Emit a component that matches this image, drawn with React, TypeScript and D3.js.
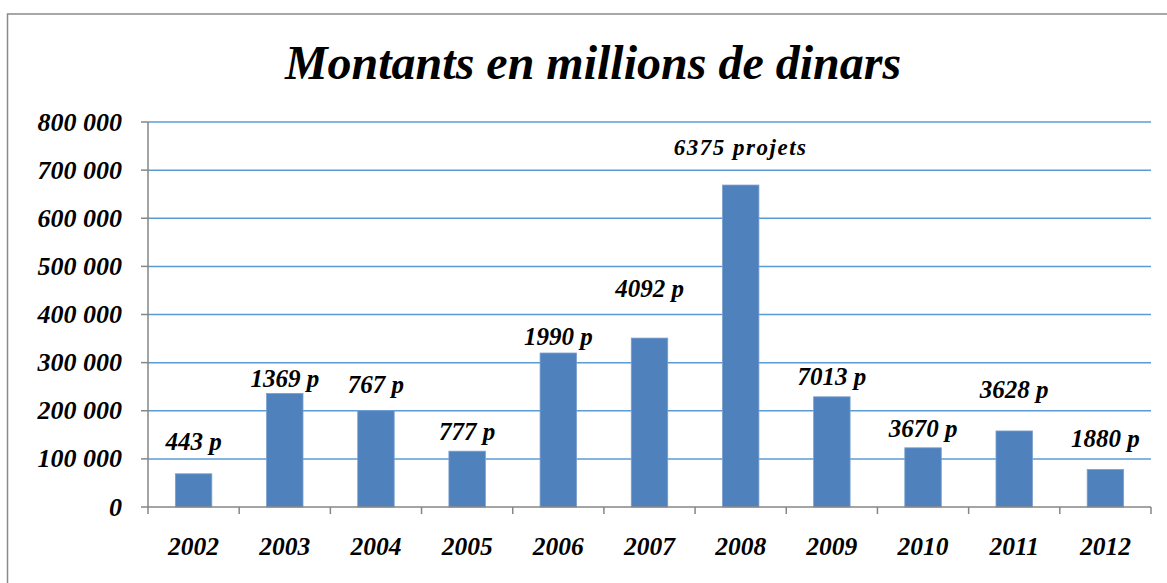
import React, { useEffect } from "react";
import * as d3 from "d3";

const years = ["2002", "2003", "2004", "2005", "2006", "2007", "2008", "2009", "2010", "2011", "2012"];
const amounts = [69000, 236000, 200000, 116000, 320000, 351000, 669000, 229000, 123000, 158000, 78000];
const projectLabels = ["443 p", "1369 p", "767 p", "777 p", "1990 p", "4092 p", "6375 projets", "7013 p", "3670 p", "3628 p", "1880 p"];
const labelAnchors = [118000, 249000, 237000, 139000, 337000, 436000, 731000, 253000, 145000, 226000, 125000];
const yTicks = [0, 100000, 200000, 300000, 400000, 500000, 600000, 700000, 800000];
const title = "Montants en millions de dinars";

const W = 1167;
const H = 583;
const left = 148;
const right = 1151;
const top = 122;
const bottom = 507;
const font = "'Liberation Serif', 'Times New Roman', serif";

const fmt = (v: number) => (v === 0 ? "0" : d3.format(",")(v).replace(/,/g, " "));

export default function App() {
  useEffect(() => {
    document.body.style.margin = "0";
  }, []);
  const x = d3.scaleBand<string>().domain(years).range([left, right]).paddingInner(0.6).paddingOuter(0.3);
  const xb = d3.scaleBand<string>().domain(years).range([left, right]);
  const y = d3.scaleLinear().domain([0, 800000]).range([bottom, top]);
  const axisColor = "#868686";
  return (
    <svg width={W} height={H} style={{ display: "block", background: "#fff" }}>
      <rect x={7.5} y={14} width={W + 20} height={H + 20} fill="none" stroke="#8a8a8a" strokeWidth={1.5} />
      <text x={593} y={79} textAnchor="middle" fontFamily={font} fontWeight="bold" fontStyle="italic" fontSize={48}>
        {title}
      </text>
      {yTicks.filter((t) => t > 0).map((t) => (
        <line key={"g" + t} x1={left} x2={right} y1={y(t)} y2={y(t)} stroke="#5B9BD5" strokeWidth={1.5} />
      ))}
      {years.map((yr, i) => (
        <rect key={yr} x={x(yr)} y={y(amounts[i])} width={x.bandwidth()} height={bottom - y(amounts[i])} fill="#4F81BD" stroke="#7BA0CF" strokeWidth={0.8} />
      ))}
      <line x1={left} x2={left} y1={top} y2={bottom} stroke={axisColor} strokeWidth={1.5} />
      <line x1={left} x2={right} y1={bottom} y2={bottom} stroke={axisColor} strokeWidth={1.5} />
      {yTicks.map((t) => (
        <g key={"t" + t}>
          <line x1={left - 7} x2={left} y1={y(t)} y2={y(t)} stroke={axisColor} strokeWidth={1.5} />
          <text x={122} y={y(t)} dy="0.33em" textAnchor="end" fontFamily={font} fontWeight="bold" fontStyle="italic" fontSize={26}>
            {fmt(t)}
          </text>
        </g>
      ))}
      {[...years.map((yr) => xb(yr) as number), right].map((px, i) => (
        <line key={"xt" + i} x1={px} x2={px} y1={bottom} y2={bottom + 7} stroke={axisColor} strokeWidth={1.5} />
      ))}
      {years.map((yr) => (
        <text key={"xl" + yr} x={(xb(yr) as number) + xb.bandwidth() / 2} y={555} textAnchor="middle" fontFamily={font} fontWeight="bold" fontStyle="italic" fontSize={25.5}>
          {yr}
        </text>
      ))}
      {years.map((yr, i) => (
        <text key={"pl" + yr} x={(xb(yr) as number) + xb.bandwidth() / 2} y={y(labelAnchors[i])} textAnchor="middle" fontFamily={font} fontWeight="bold" fontStyle="italic" fontSize={i === 6 ? 23 : 25} letterSpacing={i === 6 ? 1.5 : 0}>
          {projectLabels[i]}
        </text>
      ))}
    </svg>
  );
}
